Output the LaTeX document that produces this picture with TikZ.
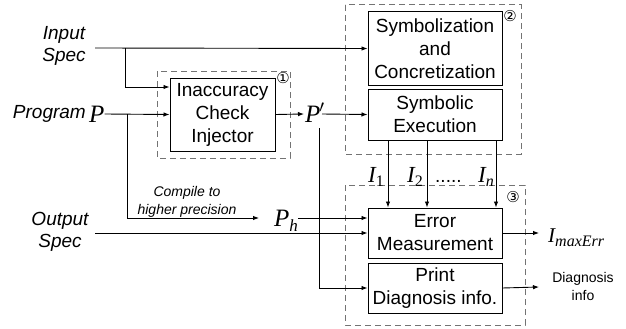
\documentclass[tikz,border=0pt]{standalone}
\usepackage[no-math]{fontspec}
\setmainfont{Liberation Sans}
\newfontfamily\dejavu{DejaVu Sans}
\newfontfamily\tms{Liberation Serif}
\usetikzlibrary{arrows.meta}
\begin{document}
\begin{tikzpicture}[x=1pt,y=-1pt,
  box/.style={draw, line width=1pt, inner sep=0pt, align=center,
    font=\fontsize{19}{23}\selectfont},
  grp/.style={draw=black!55, line width=1pt, dash pattern=on 6pt off 4pt},
  lab/.style={inner sep=0pt, align=center, font=\fontsize{19}{22}\selectfont\itshape},
  small/.style={inner sep=0pt, align=center, font=\fontsize{14}{18}\selectfont},
  num/.style={inner sep=0pt, font=\fontsize{15}{15}\selectfont\dejavu},
  mth/.style={inner sep=0pt, font=\fontsize{25}{25}\selectfont\tms\itshape},
  conn/.style={line width=0.9pt},
  arr/.style={conn, -{Latex[length=6pt,width=4.5pt]}}
]
\useasboundingbox (0,0) rectangle (626,329);

% dashed groups
\draw[grp] (157,71) rectangle (290,158);
\draw[grp] (345,5) rectangle (521,154);
\draw[grp] (345,185) rectangle (525,325);
\node[num] (n1) at (283,78) {①};
\node[num] (n2) at (510,16) {②};
\node[num] (n3) at (513,197) {③};

% boxes
\node[box, minimum width=105pt, minimum height=73pt] (inj) at (222.5,114.5) {Inaccuracy\\Check\\Injector};
\node[box, minimum width=134pt, minimum height=73pt] (sym) at (435,48.5) {Symbolization\\and\\Concretization};
\node[box, minimum width=134pt, minimum height=51pt] (se) at (435,114.5) {Symbolic\\Execution};
\node[box, minimum width=134pt, minimum height=50pt] (err) at (435,233) {Error\\Measurement};
\node[box, minimum width=134pt, minimum height=50pt] (prt) at (435,288) {Print\\Diagnosis info.};

% labels
\node[lab] (inlab) at (64,46) {Input\\Spec};
\node[lab] (outlab) at (60,232) {Output\\Spec};
\node[lab, anchor=east] (prog) at (86,114) {Program};
\node[mth, anchor=base west] (P) at (89,122) {P};
\node[mth, anchor=base west] (Pp) at (305,122) {P\kern-1pt$^{\prime}$};
\node[mth, anchor=base west] (Ph) at (274,226) {P\raisebox{-5pt}{\fontsize{17}{17}\selectfont h}};
\node[small, font=\fontsize{14}{18}\selectfont\itshape] (comp) at (187,202) {Compile to\\higher precision};
\node[mth, font=\fontsize{23}{23}\selectfont\tms\itshape, anchor=base west] (I1) at (368,182) {I\raisebox{-4pt}{\fontsize{16}{16}\selectfont\upshape 1}};
\node[mth, font=\fontsize{23}{23}\selectfont\tms\itshape, anchor=base west] (I2) at (407,182) {I\raisebox{-4pt}{\fontsize{16}{16}\selectfont\upshape 2}};
\node[mth, font=\fontsize{19}{19}\selectfont, anchor=base west] (dots) at (435,182) {.....};
\node[mth, font=\fontsize{23}{23}\selectfont\tms\itshape, anchor=base west] (In) at (478,182) {I\raisebox{-4pt}{\fontsize{16}{16}\selectfont n}};
\node[mth, font=\fontsize{21}{21}\selectfont\tms\itshape, anchor=base west] (Imax) at (548,242) {I\raisebox{-4pt}{\fontsize{16}{16}\selectfont maxErr}};
\node[small] (diag) at (583,286) {Diagnosis\\info};

% coordinates
\coordinate (inS) at (95,48);
\coordinate (b1) at (125,48);
\coordinate (b2) at (127,114);
\coordinate (outS) at (95,233);
\coordinate (outE) at (539,233);
\coordinate (diagE) at (539,287);

% connectors
\draw[arr] (inS) -- (sym.west);
\draw[arr] (b1) |- ([yshift=27.5pt]inj.west);
\draw[arr] ([yshift=8pt]P.base east) -- (inj.west);
\draw[arr] (b2) |- ([xshift=-15pt,yshift=8pt]Ph.base west);
\draw[arr] (inj.east) -- ([xshift=-1pt,yshift=8pt]Pp.base west);
\draw[arr] ([xshift=17pt,yshift=8pt]Pp.base west) -- (se.west);
\draw[arr] ([xshift=14pt,yshift=-6pt]Pp.base west) |- (prt.west);
\draw[arr] ([yshift=8pt]Ph.base east) -- ([yshift=15pt]err.west);
\draw[arr] (outS) -- (err.west);
\draw[arr] ([xshift=-47pt]se.south) -- ([xshift=-47pt]err.north);
\draw[arr] ([xshift=-8pt]se.south) -- ([xshift=-8pt]err.north);
\draw[arr] ([xshift=61pt]se.south) -- ([xshift=61pt]err.north);
\draw[arr] (err.east) -- (outE);
\draw[arr] (prt.east) -- (diagE);
\end{tikzpicture}
\end{document}
